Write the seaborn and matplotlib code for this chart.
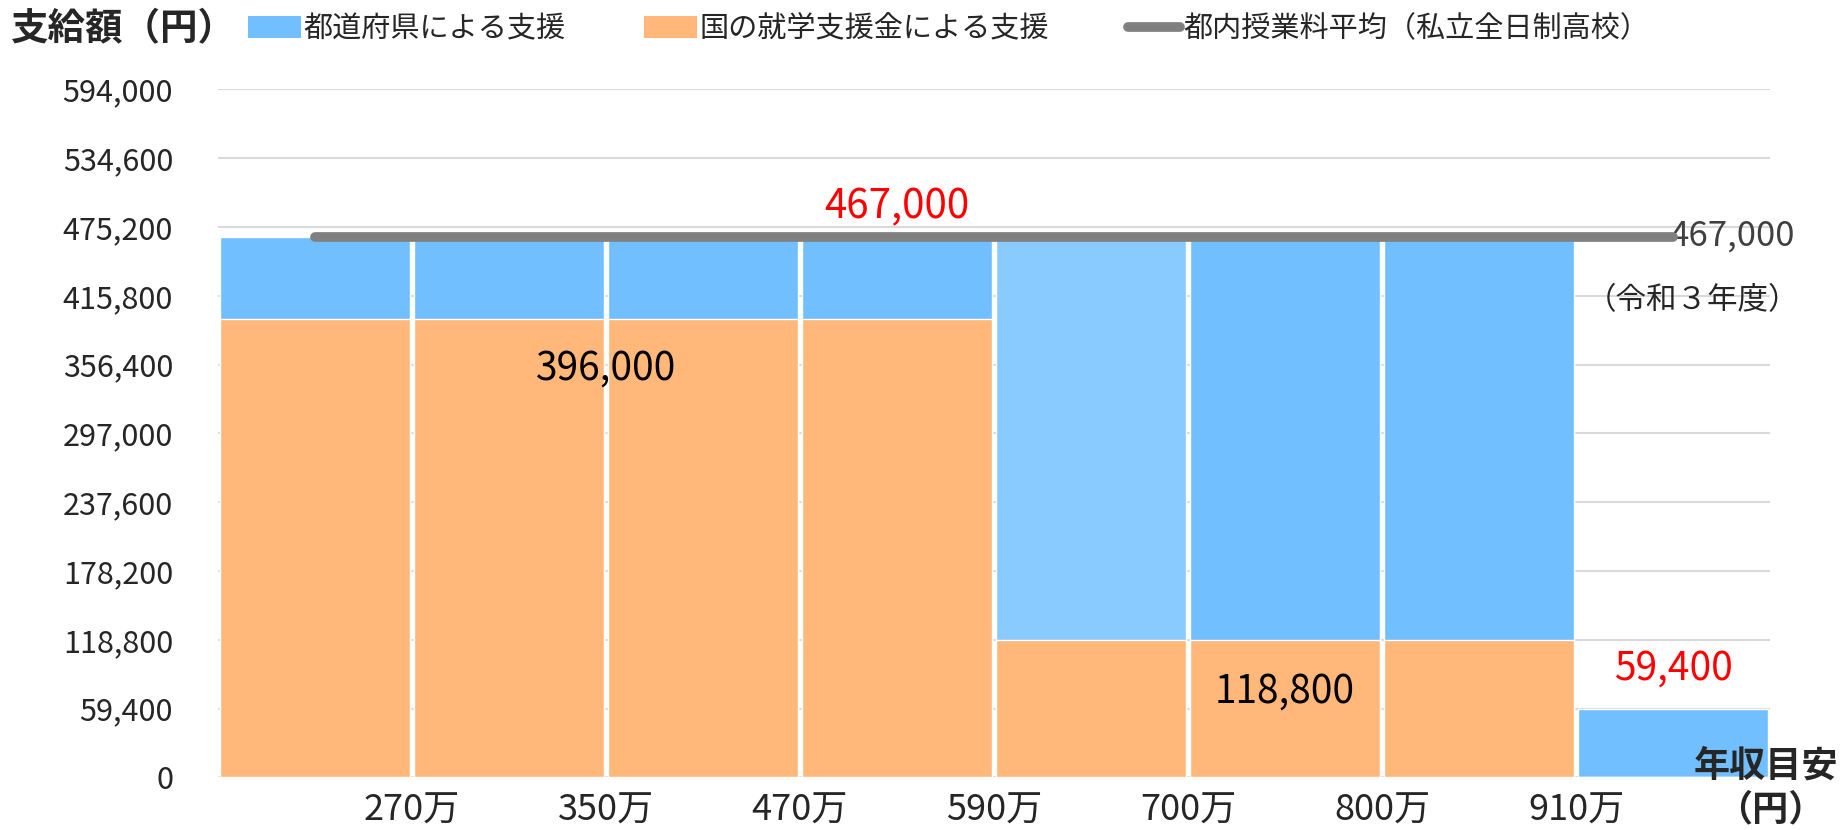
import numpy as np
import pandas as pd
import matplotlib
matplotlib.use("Agg")
import matplotlib.pyplot as plt
import seaborn as sns
from matplotlib.patches import Patch
from matplotlib.lines import Line2D

# ---------------------------------------------------
# データ
# ---------------------------------------------------
BRACKETS = ["~270万", "270-350万", "350-470万", "470-590万",
            "590-700万", "700-800万", "800-910万", "910万~"]
THRESHOLD_LABELS = ["270万", "350万", "470万", "590万", "700万", "800万", "910万"]
TOTAL_SUPPORT = [467000, 467000, 467000, 467000, 467000, 467000, 467000, 59400]
NATIONAL_SUPPORT = [396000, 396000, 396000, 396000, 118800, 118800, 118800, 0]
TUITION_AVG = [467000] * 8
Y_TICKS = [0, 59400, 118800, 178200, 237600, 297000, 356400, 415800, 475200, 534600, 594000]

BLUE = "#71BFFF"
BLUE_LIGHT = "#89CAFF"
ORANGE = "#FFB879"
GRAY = "#808080"
FONT = ["Noto Sans CJK JP", "DejaVu Sans"]

sns.set_theme(style="white")
plt.rcParams['font.family'] = FONT

df = pd.DataFrame({"bracket": BRACKETS, "total": TOTAL_SUPPORT, "national": NATIONAL_SUPPORT})
blue_palette = [BLUE_LIGHT if i == 4 else BLUE for i in range(len(BRACKETS))]

fig = plt.figure(figsize=(18.44, 8.3), dpi=100)
ax = fig.add_axes([0.118, 0.0634, 0.842, 0.8288])

# 都道府県による支援（合計の高さで描き、上に国の支援を重ねる）
sns.barplot(data=df, x="bracket", y="total", hue="bracket", palette=blue_palette,
            legend=False, width=0.98, saturation=1, ax=ax, zorder=2)
sns.barplot(data=df, x="bracket", y="national", color=ORANGE,
            width=0.98, saturation=1, ax=ax, zorder=3)

# 都内授業料平均
sns.lineplot(x=np.arange(len(BRACKETS)), y=TUITION_AVG, color=GRAY, linewidth=7,
             solid_capstyle="round", ax=ax, zorder=4)

ax.set_xlim(-0.5, len(BRACKETS) - 0.5)
ax.set_ylim(0, Y_TICKS[-1])
ax.set_yticks(Y_TICKS)
ax.set_yticklabels([f"{v:,}" for v in Y_TICKS], fontsize=22)
ax.set_xticks(np.arange(len(THRESHOLD_LABELS)) + 0.5)
ax.set_xticklabels(THRESHOLD_LABELS, fontsize=26)
ax.tick_params(axis="y", length=0, pad=32)
ax.tick_params(axis="x", length=0, pad=11)
ax.set_xlabel("")
ax.set_ylabel("")
ax.yaxis.grid(True, color="#D9D9D9", linewidth=1.5, zorder=0)
ax.set_axisbelow(True)
for s in ax.spines.values():
    s.set_visible(False)

# 注記
ax.text(3, 493000, "467,000", color="red", fontsize=29, ha="center", va="center")
ax.text(1.5, 353000, "396,000", color="black", fontsize=28, ha="center", va="center")
ax.text(5, 73800, "118,800", color="black", fontsize=28, ha="center", va="center")
ax.text(7, 94000, "59,400", color="red", fontsize=28, ha="center", va="center")
ax.text(6.98, 467000, "467,000", color="#404040", fontsize=25, ha="left", va="center")
fig.text(0.976, 0.638, "（令和３年度）", fontsize=22, ha="right", va="center")

fig.text(0.006, 0.965, "支給額（円）", fontsize=27, fontweight="bold", ha="left", va="center")
fig.text(0.997, 0.077, "年収目安", fontsize=26, fontweight="bold", ha="right", va="center")
fig.text(0.960, 0.024, "（円）", fontsize=26, fontweight="bold", ha="center", va="center")

handles = [
    Patch(facecolor=BLUE, edgecolor="none", label="都道府県による支援"),
    Patch(facecolor=ORANGE, edgecolor="none", label="国の就学支援金による支援"),
    Line2D([0], [0], color=GRAY, linewidth=7, solid_capstyle="round",
           label="都内授業料平均（私立全日制高校）"),
]
fig.legend(handles=handles, loc="center left", bbox_to_anchor=(0.1345, 0.965), ncol=3,
           frameon=False, fontsize=21, handlelength=1.8, handleheight=0.75,
           handletextpad=0.1, columnspacing=2.7, borderaxespad=0, borderpad=0)

fig.savefig("out.png", dpi=100)
